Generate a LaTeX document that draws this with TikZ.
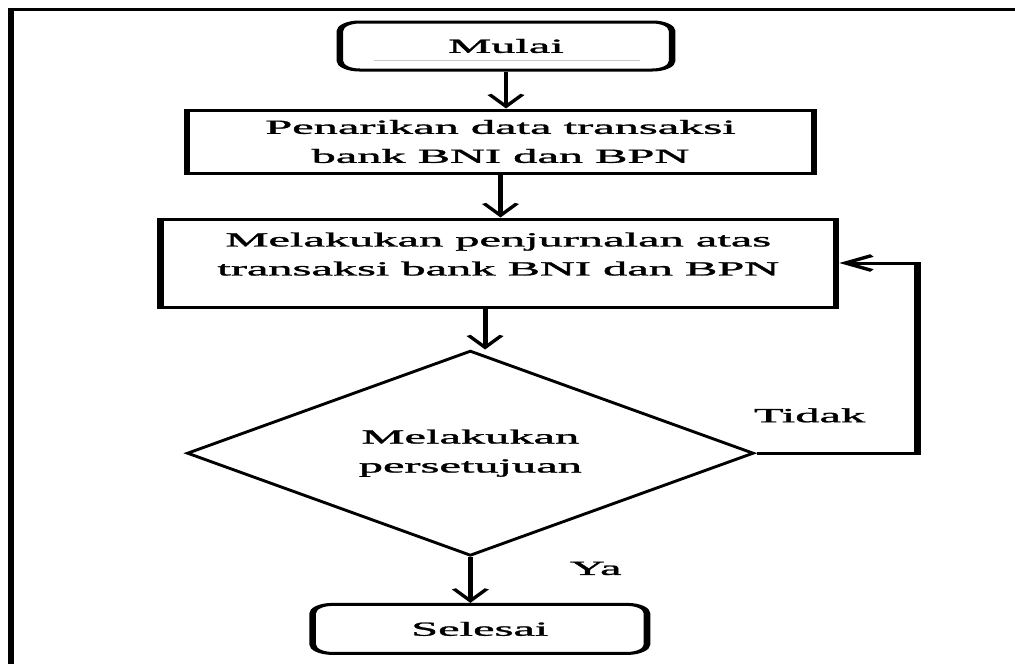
\documentclass[tikz,border=0pt]{standalone}
\usepackage{fontspec}
\setmainfont{Liberation Serif}[FakeStretch=1.1, FakeBold=1.2]
\usetikzlibrary{positioning,shapes.geometric,arrows.meta}

\begin{document}
\begin{tikzpicture}[
    x=1pt, y=1pt,
    box/.style={rectangle, draw, line width=3pt, align=center, inner sep=0pt, font=\fontsize{20}{29}\selectfont},
    term/.style={box, rounded corners=9pt},
    decision/.style={diamond, draw, line width=2.4pt, align=center, inner sep=0pt, font=\fontsize{20}{29}\selectfont},
    lbl/.style={anchor=base, inner sep=0pt, font=\fontsize{20}{29}\selectfont},
    arrow/.style={-{Straight Barb[length=12pt,width=15pt]}, line width=2.2pt},
    back/.style={arrow, line width=3pt}
]

\fill[white] (0,0) rectangle (1015,-664);
\useasboundingbox (0,0) rectangle (1015,-664);

\begin{scope}[transform canvas={xscale=2.2}]
\draw[line width=3pt] (5,-9) rectangle (480,-700);

\node[term, minimum width=151pt, minimum height=48pt] (mulai) at (230,-46) {Mulai};
\draw[gray!45, line width=1pt] ([xshift=17pt, yshift=11pt]mulai.south west) -- ([xshift=-16pt, yshift=11pt]mulai.south east);

\node[box, minimum width=285pt, minimum height=63pt, below=37pt of mulai, xshift=-2.5pt] (tarik) {Penarikan data transaksi\\bank BNI dan BPN};

\node[box, minimum width=307pt, minimum height=88pt, text depth=18pt, below=43pt of tarik, xshift=-1pt] (jurnal) {Melakukan penjurnalan atas\\transaksi bank BNI dan BPN};

\node[decision, minimum width=258pt, minimum height=205pt, below=41pt of jurnal, xshift=-12.7pt] (setuju) {Melakukan\\persetujuan};

\node[term, minimum width=152pt, minimum height=49pt, below=46pt of setuju, xshift=4.3pt] (selesai) {Selesai};

\node[lbl] (tidak) at ([xshift=24pt, yshift=31pt]setuju.east) {Tidak};
\node[lbl] (ya) at ([xshift=57pt, yshift=-18pt]setuju.south) {Ya};

\draw[arrow] (mulai.south) -- (mulai.south |- tarik.north);
\draw[arrow] (tarik.south) -- (tarik.south |- jurnal.north);
\draw[arrow] ([xshift=-6pt]jurnal.south) -- ([xshift=-6pt]jurnal.south |- setuju.north);
\draw[arrow] (setuju.south) -- (setuju.south |- selesai.north);
\draw[back] (setuju.east) -- ++(73,0) |- (jurnal.east);
\end{scope}

\end{tikzpicture}
\end{document}
